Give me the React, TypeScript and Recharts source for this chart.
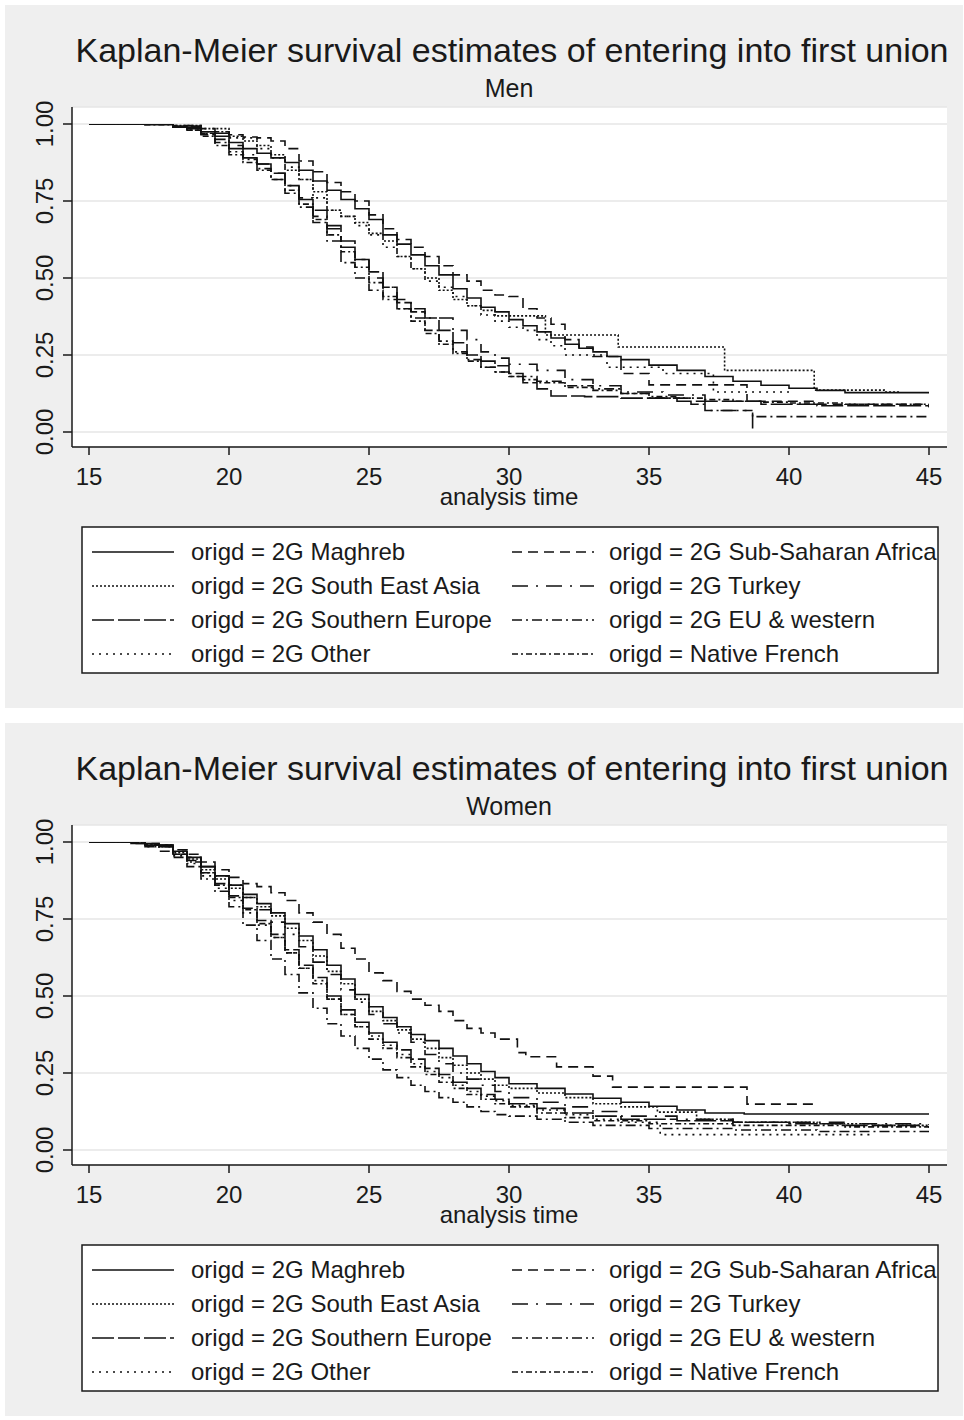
import React from 'react';
import { LineChart, Line, XAxis, YAxis, CartesianGrid } from 'recharts';

// ---------- labels ----------
const titleText = 'Kaplan-Meier survival estimates of entering into first union';
const panelSubtitles = ['Men', 'Women'];
const xAxisTitle = 'analysis time';
const xTicks = [15, 20, 25, 30, 35, 40, 45];
const yTicks = [0, 0.25, 0.5, 0.75, 1];
const groupNames = [
  '2G Maghreb',
  '2G Sub-Saharan Africa',
  '2G South East Asia',
  '2G Turkey',
  '2G Southern Europe',
  '2G EU & western',
  '2G Other',
  'Native French',
];

// ---------- Men: [age, survival] ----------
const menMaghreb: number[][] = [[15,1],[17,0.998],[18,0.99],[18.5,0.985],[19,0.975],[19.5,0.96],[20,0.94],[20.5,0.92],[21,0.905],[21.5,0.89],[22,0.875],[22.5,0.85],[23,0.815],[23.5,0.785],[24,0.755],[24.5,0.725],[25,0.69],[25.5,0.64],[26,0.61],[26.5,0.575],[27,0.54],[27.5,0.51],[28,0.465],[28.5,0.435],[29,0.405],[29.5,0.39],[30,0.365],[30.5,0.345],[31,0.325],[31.5,0.305],[32,0.285],[32.5,0.272],[33,0.26],[33.5,0.245],[34,0.235],[35,0.217],[36,0.2],[37,0.18],[38,0.165],[39,0.152],[40,0.142],[41,0.135],[42,0.128],[45,0.128]];
const menSSA: number[][] = [[15,1],[18,0.995],[19,0.985],[19.5,0.975],[20,0.965],[20.5,0.958],[21,0.955],[21.5,0.945],[22,0.92],[22.5,0.88],[23,0.845],[23.5,0.81],[24,0.78],[24.5,0.75],[25,0.705],[25.5,0.66],[26,0.625],[26.5,0.6],[27,0.57],[27.5,0.54],[28,0.51],[28.5,0.49],[29,0.46],[29.5,0.445],[30,0.44],[30.5,0.4],[31,0.37],[31.5,0.35],[32,0.3],[32.5,0.276],[33,0.245],[34,0.19],[35,0.153],[38.5,0.1],[41,0.09],[45,0.08]];
const menSEAsia: number[][] = [[15,1],[18,0.995],[19,0.985],[20,0.96],[20.5,0.945],[21,0.93],[21.5,0.9],[22,0.85],[22.5,0.82],[23,0.78],[23.5,0.72],[24,0.7],[24.5,0.68],[25,0.645],[25.5,0.62],[26,0.57],[26.5,0.53],[27,0.5],[27.5,0.46],[28,0.43],[28.5,0.41],[29,0.395],[29.5,0.377],[31.3,0.315],[33.9,0.276],[37.7,0.2],[40.9,0.136],[43.4,0.13],[44,0.13]];
const menTurkey: number[][] = [[15,1],[18,0.99],[19,0.97],[20,0.93],[20.5,0.9],[21,0.87],[21.5,0.84],[22,0.8],[22.5,0.76],[23,0.7],[23.5,0.66],[24,0.6],[24.5,0.56],[25,0.5],[25.5,0.47],[26,0.43],[26.5,0.4],[27,0.37],[28,0.33],[28.5,0.3],[29,0.26],[29.5,0.24],[30,0.22],[31,0.2],[32,0.17],[33,0.15],[34,0.13],[35.5,0.12],[37,0.07],[38.7,0]];
const menSouthEurope: number[][] = [[15,1],[18,0.993],[19,0.97],[19.5,0.95],[20,0.92],[20.5,0.89],[21,0.87],[21.5,0.84],[22,0.8],[22.5,0.755],[23,0.72],[23.5,0.67],[24,0.62],[24.5,0.56],[25,0.52],[25.5,0.47],[26,0.42],[26.5,0.39],[27,0.37],[27.5,0.33],[28,0.29],[28.5,0.25],[29,0.23],[29.5,0.215],[30,0.19],[30.5,0.16],[31,0.14],[31.5,0.117],[32.7,0.115],[34,0.11],[36,0.1],[39,0.09],[41,0.085],[45,0.08]];
const menEU: number[][] = [[15,1],[18,0.99],[18.5,0.98],[19,0.965],[19.5,0.94],[20,0.91],[20.5,0.885],[21,0.855],[21.5,0.82],[22,0.775],[22.5,0.73],[23,0.68],[23.5,0.62],[24,0.55],[24.5,0.5],[25,0.46],[25.5,0.43],[26,0.4],[26.5,0.37],[27,0.33],[27.5,0.295],[28,0.26],[28.5,0.235],[29,0.21],[29.5,0.195],[30,0.18],[31,0.165],[32,0.15],[33,0.14],[34,0.125],[35,0.11],[36.5,0.09],[37,0.07],[38.7,0.05],[45,0.05]];
const menOther: number[][] = [[15,1],[18,0.99],[19,0.975],[20,0.955],[21,0.92],[21.5,0.89],[22,0.86],[22.5,0.82],[23,0.76],[23.5,0.72],[24,0.7],[24.5,0.67],[25,0.64],[25.5,0.6],[26,0.57],[26.5,0.53],[27,0.49],[27.5,0.47],[28,0.44],[28.5,0.41],[29,0.38],[29.5,0.36],[30,0.34],[30.5,0.33],[31,0.3],[31.5,0.28],[32,0.25],[33.5,0.21],[35.5,0.19],[37.3,0.13],[40,0.13]];
const menNative: number[][] = [[15,1],[17,0.998],[18,0.99],[18.5,0.98],[19,0.96],[19.5,0.93],[20,0.9],[20.5,0.875],[21,0.85],[21.5,0.82],[22,0.785],[22.5,0.74],[23,0.69],[23.5,0.64],[24,0.585],[24.5,0.535],[25,0.485],[25.5,0.44],[26,0.4],[26.5,0.36],[27,0.32],[27.5,0.285],[28,0.255],[28.5,0.23],[29,0.21],[29.5,0.195],[30,0.18],[30.5,0.17],[31,0.16],[32,0.145],[33,0.135],[34,0.125],[35,0.115],[36,0.11],[37,0.105],[38,0.1],[39,0.097],[40,0.094],[42,0.09],[45,0.088]];

// ---------- Women: [age, survival] ----------
const womenMaghreb: number[][] = [[15,1],[16.5,0.995],[17.5,0.985],[18,0.97],[18.5,0.95],[19,0.92],[19.5,0.89],[20,0.86],[20.5,0.83],[21,0.8],[21.5,0.77],[22,0.735],[22.5,0.695],[23,0.65],[23.5,0.6],[24,0.555],[24.5,0.505],[25,0.465],[25.5,0.43],[26,0.4],[26.5,0.375],[27,0.355],[27.5,0.33],[28,0.305],[28.5,0.28],[29,0.255],[29.5,0.235],[30,0.215],[31,0.2],[32,0.182],[33,0.168],[34,0.155],[35,0.142],[36,0.13],[37,0.12],[38.4,0.117],[45,0.117]];
const womenSSA: number[][] = [[15,1],[16.5,0.995],[17.5,0.985],[18,0.975],[18.5,0.96],[19,0.935],[19.5,0.91],[20,0.885],[20.5,0.865],[21,0.855],[21.5,0.835],[22,0.81],[22.5,0.77],[23,0.74],[23.5,0.7],[24,0.655],[24.5,0.62],[25,0.575],[25.5,0.55],[26,0.515],[26.5,0.49],[27,0.47],[27.5,0.45],[28,0.42],[28.5,0.395],[29,0.38],[29.5,0.36],[30.3,0.316],[30.6,0.303],[31.7,0.27],[33,0.24],[33.7,0.204],[38.5,0.149],[41,0.149]];
const womenSEAsia: number[][] = [[15,1],[17,0.99],[18,0.965],[18.5,0.945],[19,0.91],[19.5,0.88],[20,0.85],[20.5,0.82],[21,0.79],[21.5,0.76],[22,0.72],[22.5,0.68],[23,0.63],[23.5,0.58],[24,0.54],[24.5,0.49],[25,0.45],[25.5,0.42],[26,0.39],[26.5,0.36],[27,0.33],[27.5,0.3],[28,0.275],[28.5,0.25],[29,0.23],[29.5,0.21],[30,0.2],[31,0.185],[32,0.17],[33,0.15],[34,0.14],[35.3,0.123],[36.7,0.1],[38,0.09],[41,0.085],[43,0.08],[45,0.08]];
const womenTurkey: number[][] = [[15,1],[17,0.99],[18,0.97],[18.5,0.95],[19,0.92],[19.5,0.89],[20,0.86],[20.5,0.82],[21,0.78],[21.5,0.74],[22,0.7],[22.5,0.66],[23,0.61],[23.5,0.57],[24,0.52],[24.5,0.48],[25,0.44],[25.5,0.41],[26,0.38],[26.5,0.35],[27,0.31],[27.5,0.28],[28,0.25],[28.5,0.23],[29,0.21],[29.5,0.19],[30,0.17],[31,0.155],[32,0.14],[33,0.125],[34,0.11],[36,0.1],[38,0.09],[42,0.085],[45,0.08]];
const womenSouthEurope: number[][] = [[15,1],[17,0.99],[18,0.96],[18.5,0.94],[19,0.9],[19.5,0.865],[20,0.825],[20.5,0.785],[21,0.745],[21.5,0.7],[22,0.65],[22.5,0.6],[23,0.56],[23.5,0.5],[24,0.455],[24.5,0.415],[25,0.38],[25.5,0.35],[26,0.325],[26.5,0.295],[27,0.265],[27.5,0.245],[28,0.22],[28.5,0.2],[29,0.18],[29.5,0.165],[30,0.15],[31,0.135],[32,0.12],[33,0.11],[34,0.1],[36,0.095],[38,0.09],[40,0.085],[42,0.08],[44.8,0.076]];
const womenEU: number[][] = [[15,1],[17,0.985],[17.5,0.97],[18,0.95],[18.5,0.92],[19,0.88],[19.5,0.84],[20,0.79],[20.5,0.73],[21,0.68],[21.5,0.62],[22,0.57],[22.5,0.51],[23,0.46],[23.5,0.41],[24,0.37],[24.5,0.33],[25,0.295],[25.5,0.26],[26,0.235],[26.5,0.21],[27,0.19],[27.5,0.17],[28,0.155],[28.5,0.14],[29,0.125],[29.5,0.115],[30,0.11],[31,0.1],[32,0.09],[33,0.08],[35,0.07],[38,0.065],[41,0.06],[45,0.058]];
const womenOther: number[][] = [[15,1],[17,0.985],[18,0.955],[18.5,0.93],[19,0.89],[19.5,0.85],[20,0.81],[20.5,0.77],[21,0.73],[21.5,0.69],[22,0.64],[22.5,0.59],[23,0.55],[23.5,0.49],[24,0.44],[24.5,0.4],[25,0.37],[25.5,0.34],[26,0.31],[26.5,0.28],[27,0.255],[27.5,0.235],[28,0.21],[28.5,0.19],[29,0.175],[29.5,0.16],[30,0.145],[31,0.13],[32,0.115],[33,0.1],[34,0.09],[35.4,0.05],[42.9,0.05]];
const womenNative: number[][] = [[15,1],[17,0.99],[18,0.96],[18.5,0.935],[19,0.9],[19.5,0.86],[20,0.82],[20.5,0.78],[21,0.735],[21.5,0.69],[22,0.64],[22.5,0.59],[23,0.54],[23.5,0.49],[24,0.44],[24.5,0.4],[25,0.36],[25.5,0.33],[26,0.3],[26.5,0.27],[27,0.245],[27.5,0.22],[28,0.2],[28.5,0.18],[29,0.165],[29.5,0.15],[30,0.14],[31,0.12],[32,0.105],[33,0.095],[35,0.085],[38,0.08],[42,0.075],[45,0.07]];

const menSeries = [menMaghreb, menSSA, menSEAsia, menTurkey, menSouthEurope, menEU, menOther, menNative];
const womenSeries = [womenMaghreb, womenSSA, womenSEAsia, womenTurkey, womenSouthEurope, womenEU, womenOther, womenNative];

// ---------- styles ----------
const FONT = '"Liberation Sans", Arial, Helvetica, sans-serif';
const INK = '#1a1a1a';
const PANEL_BG = '#efefef';
const dashes = ['', '10 6', '2 2', '16 8 2 8', '22 4', '10 4 2 4', '2 5', '6 3 2 3'];
const PANEL_W = 958;

const toPoints = (arr: number[][]) => arr.map(([t, s]) => ({ t, s }));

const XTick = (props: any) => {
  const { x, y, payload } = props;
  return (
    <text x={x} y={y + 30} textAnchor="middle" fontSize={24} fontFamily={FONT} fill={INK}>
      {payload.value}
    </text>
  );
};

const YTick = (props: any) => {
  const { x, y, payload } = props;
  return (
    <text
      transform={`translate(${x - 10}, ${y}) rotate(-90)`}
      x={0}
      y={0}
      textAnchor="middle"
      fontSize={24}
      fontFamily={FONT}
      fill={INK}
    >
      {Number(payload.value).toFixed(2)}
    </text>
  );
};

const Panel = ({ top, height, subtitle, series }: { top: number; height: number; subtitle: string; series: number[][][] }) => {
  const yAxisW = 60;
  const xAxisH = 60;
  const plotTop = 102;
  const plotBottom = 442;
  const legendTop = 522;
  const rowY = (i: number) => legendTop + 25 + i * 34;
  return (
    <div style={{ position: 'absolute', left: 5, top, width: PANEL_W, height, background: PANEL_BG }}>
      <LineChart
        width={PANEL_W}
        height={height}
        margin={{ top: plotTop, right: 16, left: 67 - yAxisW, bottom: height - plotBottom - xAxisH }}
      >
        <CartesianGrid vertical={false} fill="#ffffff" stroke="#e6e6e6" strokeWidth={1.5} />
        <XAxis
          type="number"
          dataKey="t"
          domain={[15, 45]}
          ticks={xTicks}
          allowDataOverflow
          padding={{ left: 17, right: 18 }}
          height={xAxisH}
          tickSize={8}
          tickMargin={0}
          tick={<XTick />}
          axisLine={{ stroke: INK, strokeWidth: 1.5 }}
          tickLine={{ stroke: INK, strokeWidth: 1.5 }}
        />
        <YAxis
          type="number"
          domain={[0, 1]}
          ticks={yTicks}
          allowDataOverflow
          padding={{ top: 17, bottom: 15 }}
          width={yAxisW}
          tickSize={9}
          tickMargin={0}
          tick={<YTick />}
          axisLine={{ stroke: INK, strokeWidth: 1.5 }}
          tickLine={{ stroke: INK, strokeWidth: 1.5 }}
        />
        {series.map((arr, i) => (
          <Line
            key={groupNames[i]}
            data={toPoints(arr)}
            dataKey="s"
            name={groupNames[i]}
            type="stepAfter"
            stroke="#111111"
            strokeWidth={1.6}
            strokeDasharray={dashes[i] || undefined}
            dot={false}
            activeDot={false}
            isAnimationActive={false}
          />
        ))}
      </LineChart>
      <svg
        width={PANEL_W}
        height={height}
        style={{ position: 'absolute', left: 0, top: 0, pointerEvents: 'none' }}
      >
        <text x={507} y={57} textAnchor="middle" fontSize={34} fontFamily={FONT} fill={INK}>
          {titleText}
        </text>
        <text x={504} y={92} textAnchor="middle" fontSize={25} fontFamily={FONT} fill={INK}>
          {subtitle}
        </text>
        <text x={504} y={500} textAnchor="middle" fontSize={24} fontFamily={FONT} fill={INK}>
          {xAxisTitle}
        </text>
        <rect x={77} y={legendTop} width={856} height={146} fill="#ffffff" stroke={INK} strokeWidth={1.5} />
        {groupNames.map((name, i) => {
          const col = i % 2;
          const row = Math.floor(i / 2);
          const lx = col === 0 ? 87 : 507;
          const tx = col === 0 ? 186 : 604;
          const cy = rowY(row);
          return (
            <g key={name}>
              <line
                x1={lx}
                x2={lx + 82}
                y1={cy}
                y2={cy}
                stroke="#111111"
                strokeWidth={1.6}
                strokeDasharray={dashes[i] || undefined}
              />
              <text x={tx} y={cy + 8} fontSize={24} fontFamily={FONT} fill={INK}>
                {`origd = ${name}`}
              </text>
            </g>
          );
        })}
      </svg>
    </div>
  );
};

export default function App() {
  return (
    <div style={{ position: 'absolute', left: 0, top: 0, width: 964, height: 1420, background: '#ffffff', fontFamily: FONT }}>
      <Panel top={5} height={703} subtitle={panelSubtitles[0]} series={menSeries} />
      <Panel top={723} height={693} subtitle={panelSubtitles[1]} series={womenSeries} />
    </div>
  );
}
